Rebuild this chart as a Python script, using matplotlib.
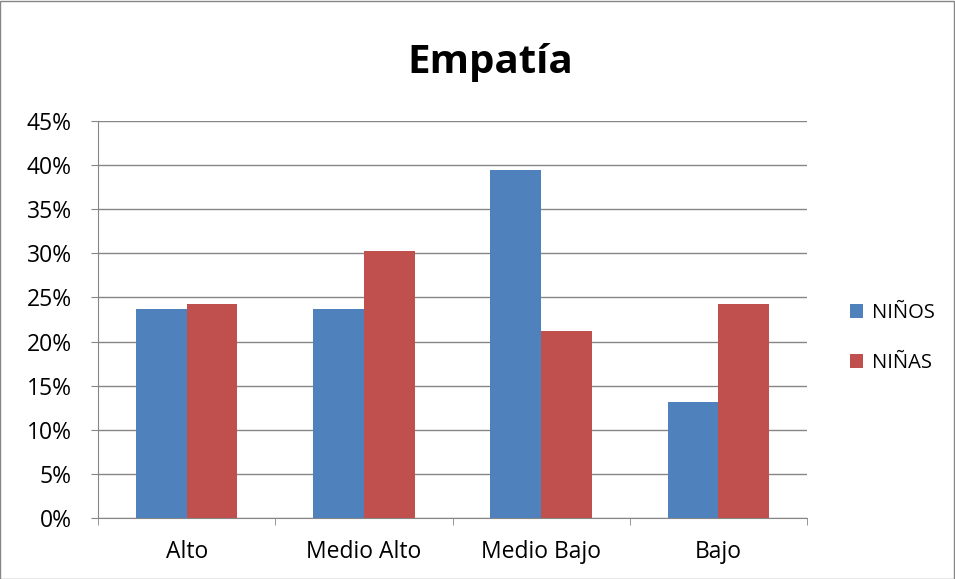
import matplotlib
matplotlib.use("Agg")
import matplotlib.pyplot as plt
from matplotlib.patches import Rectangle
import numpy as np

plt.rcParams['font.family'] = ['Open Sans', 'DejaVu Sans']

categories = ["Alto", "Medio Alto", "Medio Bajo", "Bajo"]
ninos = [23.68, 23.68, 39.47, 13.16]
ninas = [24.24, 30.30, 21.21, 24.24]
series_names = ["NIÑOS", "NIÑAS"]
yticks = [0, 5, 10, 15, 20, 25, 30, 35, 40, 45]

fig = plt.figure(figsize=(9.55, 5.79), dpi=100)
ax = fig.add_axes([98/955, 61/579, 709/955, 397/579])

x = np.arange(len(categories))
w = 0.2857
ax.bar(x - w/2, ninos, w, color="#4F81BD", label=series_names[0], zorder=3)
ax.bar(x + w/2, ninas, w, color="#C0504D", label=series_names[1], zorder=3)

ax.set_xlim(-0.5, len(categories) - 0.5)
ax.set_ylim(0, 45)
ax.set_yticks(yticks)
ax.set_yticklabels([f"{v}%" for v in yticks], fontsize=16.5)
ax.yaxis.grid(True, color="#868686", linewidth=1, zorder=0)
ax.set_axisbelow(True)

ax.set_xticks(x)
ax.set_xticklabels(categories, fontsize=16.5)
ax.set_xticks(np.arange(-0.5, len(categories)), minor=True)
ax.tick_params(axis='x', which='major', length=0, pad=16)
ax.tick_params(axis='x', which='minor', length=5, color="#868686", direction='out')
ax.tick_params(axis='y', length=5, color="#868686", direction='out', pad=14)

for s in ["top", "right"]:
    ax.spines[s].set_visible(False)
ax.spines["left"].set_color("#868686")
ax.spines["bottom"].set_color("#868686")

fig.text(490/955, 1 - 62/579, "Empatía", fontsize=29, fontweight='bold',
         ha='center', va='center')

fig.legend(loc='center left', bbox_to_anchor=(832/955, 1 - 338/579),
           frameon=False, fontsize=14.5, handlelength=0.65, handleheight=0.65,
           labelspacing=1.5, handletextpad=0.45)

fig.patches.append(Rectangle((0.0005, 0.0008), 0.998, 0.998, transform=fig.transFigure,
                             fill=False, edgecolor="#868686", linewidth=1))

fig.savefig("out.png", dpi=100)
